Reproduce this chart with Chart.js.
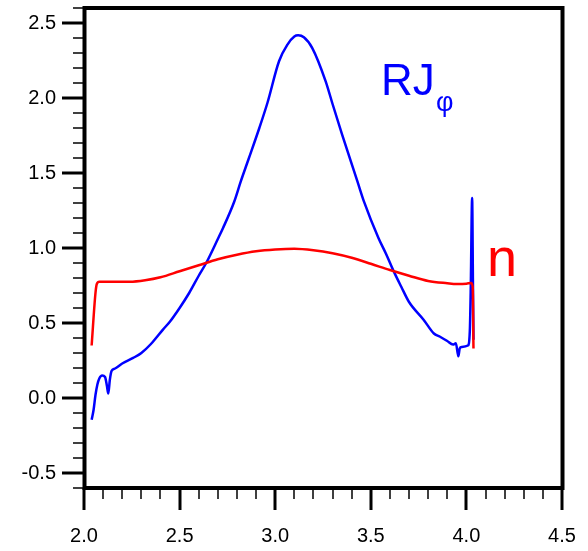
<!DOCTYPE html>
<html>
<head>
<meta charset="utf-8">
<script src="https://cdn.jsdelivr.net/npm/chart.js@4.4.1/dist/chart.umd.min.js"></script>
<style>
html,body{margin:0;padding:0;background:#fff;}
canvas{display:block;}
</style>
</head>
<body>
<canvas id="c" width="588" height="551"></canvas>
<script>
// ---- data ----
const nX = [2.040,2.060,2.067,2.080,2.15,2.24,2.32,2.40,2.50,2.60,2.70,2.80,2.90,3.00,3.10,3.20,3.30,3.40,3.50,3.60,3.70,3.80,3.90,3.95,4.00,4.025,4.033,4.037];
const nY = [0.35,0.70,0.76,0.775,0.775,0.775,0.785,0.805,0.845,0.885,0.925,0.955,0.978,0.99,0.995,0.985,0.965,0.935,0.895,0.853,0.815,0.78,0.765,0.76,0.762,0.767,0.74,0.33];

const rjX = [2.040,2.050,2.060,2.070,2.080,2.095,2.110,2.120,2.127,2.135,2.144,2.16,2.20,2.257,2.30,2.35,2.413,2.45,2.50,2.55,2.60,2.639,2.70,2.726,2.786,2.82,2.86,2.917,2.96,3.02,3.064,3.10,3.12,3.15,3.194,3.264,3.30,3.35,3.43,3.464,3.54,3.58,3.62,3.66,3.70,3.776,3.83,3.86,3.90,3.93,3.945,3.958,3.965,3.975,4.008,4.018,4.023,4.030,4.034,4.037];
const rjY = [-0.145,-0.08,0.02,0.09,0.13,0.15,0.14,0.08,0.03,0.12,0.18,0.195,0.23,0.267,0.30,0.36,0.456,0.51,0.60,0.70,0.815,0.90,1.06,1.13,1.31,1.444,1.59,1.80,1.97,2.245,2.356,2.41,2.418,2.405,2.333,2.111,1.96,1.756,1.444,1.311,1.067,0.96,0.844,0.74,0.64,0.522,0.43,0.41,0.38,0.356,0.365,0.278,0.33,0.34,0.35,0.45,0.75,1.333,0.8,0.389];

const xTickLabels = [2.0,2.5,3.0,3.5,4.0,4.5];
const yTickLabels = [-0.5,0.0,0.5,1.0,1.5,2.0,2.5];
const xMinorStep = 0.1, yMinorStep = 0.1;
const xRange = [2.0,4.5], yRange = [-0.6,2.6];

const toPts = (xs, ys) => xs.map((x,i)=>({x:x,y:ys[i]}));

const framePlugin = {
  id:'frame',
  afterDraw(chart){
    const ctx = chart.ctx, a = chart.chartArea;
    const xs = chart.scales.x, ys = chart.scales.y;
    ctx.save();
    ctx.strokeStyle = '#000';
    ctx.lineCap = 'butt';
    // minor ticks
    ctx.lineWidth = 1.5;
    const nxm = Math.round((xRange[1]-xRange[0])/xMinorStep);
    for(let i=0;i<=nxm;i++){
      const v = xRange[0]+i*xMinorStep;
      const px = Math.round(xs.getPixelForValue(v));
      ctx.beginPath(); ctx.moveTo(px, a.bottom); ctx.lineTo(px, a.bottom+11); ctx.stroke();
    }
    const nym = Math.round((yRange[1]-yRange[0])/yMinorStep);
    for(let i=0;i<=nym;i++){
      const v = yRange[0]+i*yMinorStep;
      const py = Math.round(ys.getPixelForValue(v));
      ctx.beginPath(); ctx.moveTo(a.left, py); ctx.lineTo(a.left-11, py); ctx.stroke();
    }
    // major ticks
    ctx.lineWidth = 3;
    xTickLabels.forEach(v=>{
      const px = Math.round(xs.getPixelForValue(v));
      ctx.beginPath(); ctx.moveTo(px, a.bottom); ctx.lineTo(px, a.bottom+22); ctx.stroke();
    });
    yTickLabels.forEach(v=>{
      const py = Math.round(ys.getPixelForValue(v));
      ctx.beginPath(); ctx.moveTo(a.left, py); ctx.lineTo(a.left-22, py); ctx.stroke();
    });
    // frame
    ctx.lineWidth = 4;
    ctx.strokeRect(a.left+0.5, a.top, a.right-a.left, a.bottom-a.top);
    // annotations
    ctx.textBaseline = 'alphabetic';
    ctx.fillStyle = '#0000ff';
    ctx.font = '44px "Liberation Sans", Arial, sans-serif';
    ctx.fillText('RJ', 381, 95);
    ctx.font = '27px "Liberation Sans", Arial, sans-serif';
    ctx.fillText('\u03C6', 436, 111);
    ctx.fillStyle = '#ff0000';
    ctx.font = '54px "Liberation Sans", Arial, sans-serif';
    ctx.fillText('n', 487, 276);
    ctx.restore();
  }
};

function noPad(s){ s.paddingTop = 0; s.paddingBottom = 0; s.paddingLeft = 0; s.paddingRight = 0; }

new Chart(document.getElementById('c'), {
  type:'scatter',
  data:{
    datasets:[
      {label:'n', data:toPts(nX,nY), showLine:true, borderColor:'#ff0000', borderWidth:2.5, pointRadius:0, cubicInterpolationMode:'monotone', fill:false},
      {label:'RJφ', data:toPts(rjX,rjY), showLine:true, borderColor:'#0000ff', borderWidth:2.5, pointRadius:0, cubicInterpolationMode:'monotone', fill:false}
    ]
  },
  options:{
    responsive:false,
    animation:false,
    events:[],
    layout:{padding:{top:8,right:26,bottom:3,left:0}},
    plugins:{legend:{display:false}, tooltip:{enabled:false}},
    scales:{
      x:{
        type:'linear', min:xRange[0], max:xRange[1],
        afterBuildTicks(s){ s.ticks = xTickLabels.map(v=>({value:v})); },
        afterFit(s){ s.height = 60; noPad(s); },
        grid:{display:false, drawTicks:false},
        border:{display:false},
        ticks:{padding:36, color:'#000', font:{family:'"Liberation Sans", Arial, sans-serif', size:20}, callback:v=>Number(v).toFixed(1), maxRotation:0, autoSkip:false}
      },
      y:{
        type:'linear', min:yRange[0], max:yRange[1],
        afterBuildTicks(s){ s.ticks = yTickLabels.map(v=>({value:v})); },
        afterFit(s){ s.width = 84; noPad(s); },
        grid:{display:false, drawTicks:false},
        border:{display:false},
        ticks:{padding:28, color:'#000', font:{family:'"Liberation Sans", Arial, sans-serif', size:20}, callback:v=>Number(v).toFixed(1), autoSkip:false}
      }
    }
  },
  plugins:[framePlugin]
});
</script>
</body>
</html>
